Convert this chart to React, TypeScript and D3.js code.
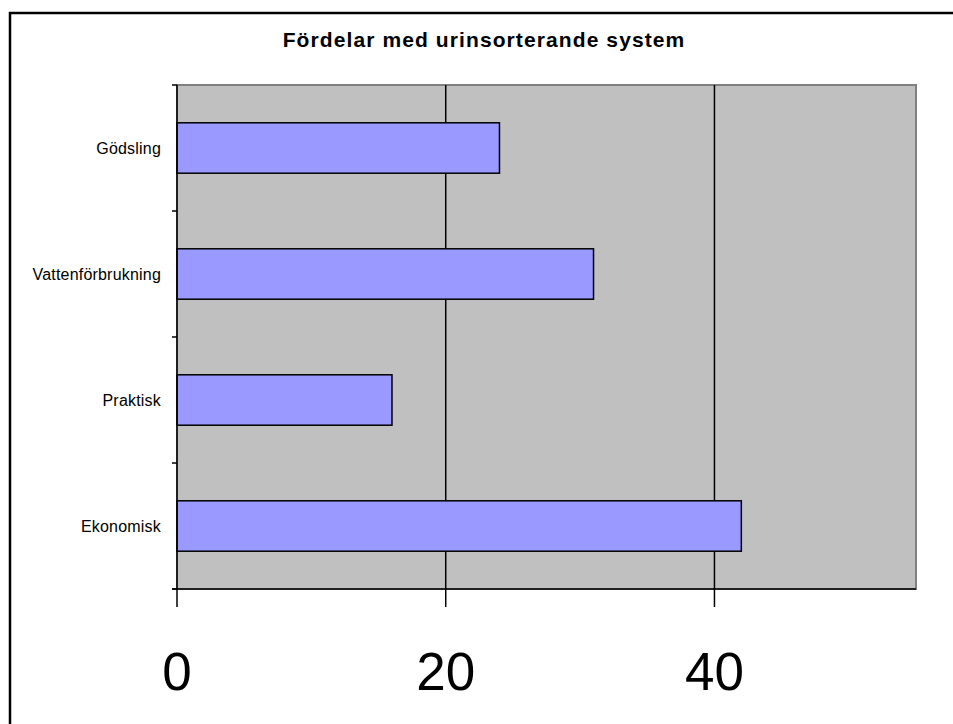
import React, { useRef, useEffect } from 'react'
import { select, scaleBand, scaleLinear } from 'd3'

const categories = ['Gödsling', 'Vattenförbrukning', 'Praktisk', 'Ekonomisk']
const values = [24, 31, 16, 42]
const xTicks = [0, 20, 40]
const xMax = 55
const title = 'Fördelar med urinsorterande system'

const W = 953
const H = 724
const plot = { left: 177, top: 85, right: 916, bottom: 589 }

const App = () => {
    const chartRef = useRef<any>()

    useEffect(() => {
        document.body.style.margin = '0'
        const svg = select(chartRef.current)
        svg.selectAll('*').remove()

        const xScale = scaleLinear()
            .domain([0, xMax])
            .range([plot.left, plot.right])

        // each bar sits in the middle of its own category slot
        const yScale = scaleBand()
            .domain(categories)
            .range([plot.top, plot.bottom])
            .paddingInner(0.6)
            .paddingOuter(0.3)

        const step = yScale.step()

        // outer frame (only left and top are inside the window)
        svg.append('path')
            .attr('d', `M10,${H + 5}V13H${W + 5}`)
            .attr('fill', 'none')
            .attr('stroke', '#000')
            .attr('stroke-width', 2.5)

        // title
        svg.append('text')
            .attr('x', 484)
            .attr('y', 47)
            .attr('text-anchor', 'middle')
            .attr('font-family', 'Arial, "Liberation Sans", sans-serif')
            .attr('font-weight', 'bold')
            .attr('font-size', 21)
            .attr('letter-spacing', 1.1)
            .text(title)

        // plot background
        svg.append('rect')
            .attr('x', plot.left)
            .attr('y', plot.top)
            .attr('width', plot.right - plot.left)
            .attr('height', plot.bottom - plot.top)
            .attr('fill', '#c0c0c0')
            .attr('stroke', '#808080')
            .attr('stroke-width', 2)

        // gridlines
        svg.selectAll('.grid')
            .data(xTicks.filter(t => t > 0))
            .join('line')
            .attr('class', 'grid')
            .attr('x1', d => xScale(d))
            .attr('x2', d => xScale(d))
            .attr('y1', plot.top)
            .attr('y2', plot.bottom)
            .attr('stroke', '#000')
            .attr('stroke-width', 1.5)

        // bars
        svg.selectAll('.bar')
            .data(categories)
            .join('rect')
            .attr('class', 'bar')
            .attr('x', xScale(0))
            .attr('y', d => yScale(d))
            .attr('width', (d, i) => xScale(values[i]) - xScale(0))
            .attr('height', yScale.bandwidth())
            .attr('fill', '#9999ff')
            .attr('stroke', '#000')
            .attr('stroke-width', 1.5)

        // axes lines
        svg.append('line')
            .attr('x1', plot.left).attr('x2', plot.left)
            .attr('y1', plot.top).attr('y2', plot.bottom)
            .attr('stroke', '#000').attr('stroke-width', 1.5)
        svg.append('line')
            .attr('x1', plot.left - 5).attr('x2', plot.right)
            .attr('y1', plot.bottom).attr('y2', plot.bottom)
            .attr('stroke', '#000').attr('stroke-width', 1.5)

        // y ticks at category boundaries
        svg.selectAll('.ytick')
            .data([...categories.map(c => yScale(c) - (step - yScale.bandwidth()) / 2), plot.bottom])
            .join('line')
            .attr('class', 'ytick')
            .attr('x1', plot.left - 5)
            .attr('x2', plot.left)
            .attr('y1', d => d)
            .attr('y2', d => d)
            .attr('stroke', '#000')
            .attr('stroke-width', 1.5)

        // x ticks
        svg.selectAll('.xtick')
            .data(xTicks)
            .join('line')
            .attr('class', 'xtick')
            .attr('x1', d => xScale(d))
            .attr('x2', d => xScale(d))
            .attr('y1', plot.bottom)
            .attr('y2', plot.bottom + 18)
            .attr('stroke', '#000')
            .attr('stroke-width', 1.5)

        // category labels
        svg.selectAll('.label')
            .data(categories)
            .join('text')
            .attr('class', 'label')
            .attr('x', 161)
            .attr('y', d => yScale(d) + yScale.bandwidth() / 2 + 6)
            .attr('text-anchor', 'end')
            .attr('font-family', 'Arial, "Liberation Sans", sans-serif')
            .attr('font-size', 16)
            .attr('letter-spacing', 0.2)
            .text(d => d)

        // x tick labels
        svg.selectAll('.xlabel')
            .data(xTicks)
            .join('text')
            .attr('class', 'xlabel')
            .attr('x', d => xScale(d))
            .attr('y', 690)
            .attr('text-anchor', 'middle')
            .attr('font-family', 'Arial, "Liberation Sans", sans-serif')
            .attr('font-size', 53)
            .text(d => d)
    }, [chartRef])

    return (
        <svg
            ref={chartRef}
            width={W}
            height={H}
            style={{ position: 'absolute', left: 0, top: 0, display: 'block', background: '#fff' }}
        />
    )
}

export default App
